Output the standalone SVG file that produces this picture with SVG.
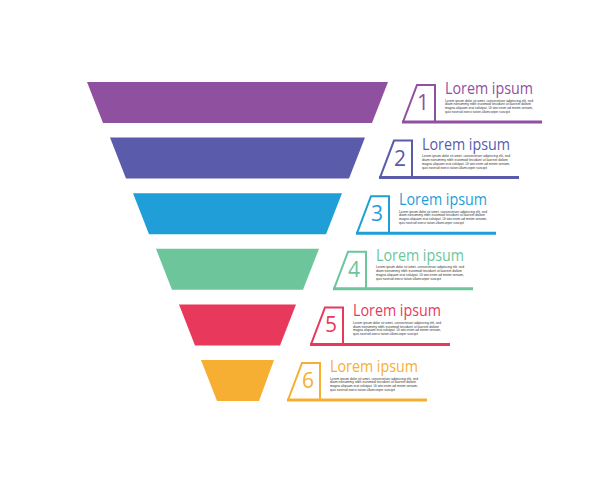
<svg xmlns="http://www.w3.org/2000/svg" width="612" height="484" viewBox="0 0 612 484">
<style>
.box{fill:none;stroke-width:2;stroke-linejoin:miter}
.base{fill:none;stroke-width:3}
.num{font-family:"Open Sans","Liberation Sans",sans-serif;font-size:21px;text-anchor:middle;stroke:none}
.ttl{font-family:"Open Sans","Liberation Sans",sans-serif;font-size:17px;stroke:none}
.body{font-family:"Liberation Sans",sans-serif;font-size:3.6px;fill:#333;stroke:none}
</style>
<rect width="612" height="484" fill="#fff"/>
<defs>
<g id="label">
<path class="box" d="M403,122 L417,85 L435,85 L435,122"/>
<path class="base" d="M402,122 L542,122"/>
<text class="body" x="445" y="101.5" textLength="88" lengthAdjust="spacingAndGlyphs">Lorem ipsum dolor sit amet, consectetuer adipiscing elit, sed</text>
<text class="body" x="445" y="105.3" textLength="86" lengthAdjust="spacingAndGlyphs">diam nonummy nibh euismod tincidunt ut laoreet dolore</text>
<text class="body" x="445" y="109.1" textLength="88" lengthAdjust="spacingAndGlyphs">magna aliquam erat volutpat. Ut wisi enim ad minim veniam,</text>
<text class="body" x="445" y="113" textLength="65" lengthAdjust="spacingAndGlyphs">quis nostrud exerci tation ullamcorper suscipit</text>
</g>
</defs>
<g id="connectors"></g>
<g id="step1" fill="#8F509F" stroke="#8F509F">
<polygon points="87,82 388,82 372,123 103,123" stroke="none"/>
<use href="#label"/>
<text class="num" x="423" y="110">1</text>
<text class="ttl" x="445" y="94" textLength="88" lengthAdjust="spacingAndGlyphs">Lorem ipsum</text>
</g>
<g id="step2" fill="#5A5BAA" stroke="#5A5BAA">
<polygon points="110,137.6 365,137.6 349,178.6 126,178.6" stroke="none"/>
<g transform="translate(-23,55.6)">
<use href="#label"/>
<text class="num" x="423" y="110">2</text>
<text class="ttl" x="445" y="94" textLength="88" lengthAdjust="spacingAndGlyphs">Lorem ipsum</text>
</g>
</g>
<g id="step3" fill="#1F9ED8" stroke="#1F9ED8">
<polygon points="133,193.2 342,193.2 326,234.2 149,234.2" stroke="none"/>
<g transform="translate(-46,111.2)">
<use href="#label"/>
<text class="num" x="423" y="110">3</text>
<text class="ttl" x="445" y="94" textLength="88" lengthAdjust="spacingAndGlyphs">Lorem ipsum</text>
</g>
</g>
<g id="step4" fill="#6DC59C" stroke="#6DC59C">
<polygon points="156,248.8 319,248.8 303,289.8 172,289.8" stroke="none"/>
<g transform="translate(-69,166.8)">
<use href="#label"/>
<text class="num" x="423" y="110">4</text>
<text class="ttl" x="445" y="94" textLength="88" lengthAdjust="spacingAndGlyphs">Lorem ipsum</text>
</g>
</g>
<g id="step5" fill="#E8395C" stroke="#E8395C">
<polygon points="179,304.4 296,304.4 280,345.4 195,345.4" stroke="none"/>
<g transform="translate(-92,222.4)">
<use href="#label"/>
<text class="num" x="423" y="110">5</text>
<text class="ttl" x="445" y="94" textLength="88" lengthAdjust="spacingAndGlyphs">Lorem ipsum</text>
</g>
</g>
<g id="step6" fill="#F6AE33" stroke="#F6AE33">
<polygon points="201,360 274,360 259,401 217,401" stroke="none"/>
<g transform="translate(-115,278)">
<use href="#label"/>
<text class="num" x="423" y="110">6</text>
<text class="ttl" x="445" y="94" textLength="88" lengthAdjust="spacingAndGlyphs">Lorem ipsum</text>
</g>
</g>
</svg>
